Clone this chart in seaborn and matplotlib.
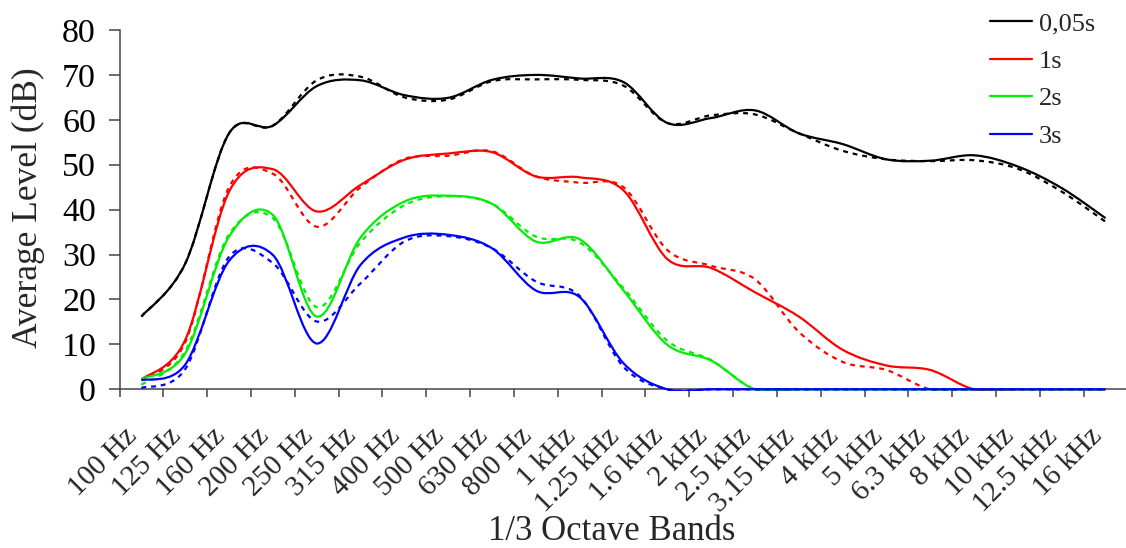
import numpy as np
import pandas as pd
import seaborn as sns
import matplotlib.pyplot as plt
from matplotlib.path import Path
from matplotlib.patches import PathPatch
from matplotlib.lines import Line2D
from matplotlib.transforms import Bbox, TransformedBbox, ScaledTranslation

# 1/3 octave band centres
bands = ["100 Hz", "125 Hz", "160 Hz", "200 Hz", "250 Hz", "315 Hz", "400 Hz",
         "500 Hz", "630 Hz", "800 Hz", "1 kHz", "1.25 kHz", "1.6 kHz", "2 kHz",
         "2.5 kHz", "3.15 kHz", "4 kHz", "5 kHz", "6.3 kHz", "8 kHz", "10 kHz",
         "12.5 kHz", "16 kHz"]

# average level (dB), solid = measured, dashed = second curve of each pair
lvl_005 = [16.2, 28.0, 57.0, 58.7, 67.5, 68.8, 65.5, 64.9, 68.9, 70.0, 69.2, 68.4,
           59.3, 60.4, 62.1, 57.0, 54.6, 51.2, 50.9, 52.1, 49.6, 44.8, 38.1]
lvl_005_b = [16.2, 28.0, 57.0, 58.7, 68.8, 69.6, 65.0, 64.5, 68.6, 69.0, 68.9, 67.6,
             59.3, 61.0, 61.2, 57.0, 53.1, 51.2, 50.8, 51.0, 49.1, 44.0, 37.3]
lvl_1 = [2.2, 11.0, 44.0, 49.0, 39.6, 45.5, 51.1, 52.5, 52.8, 47.4, 47.2, 44.3,
         29.0, 27.0, 21.6, 16.2, 8.8, 5.3, 4.3, 0, 0, 0, 0]
lvl_1_b = [2.0, 10.5, 45.0, 48.0, 36.2, 45.0, 51.3, 52.0, 53.0, 47.4, 46.0, 45.0,
           31.0, 27.5, 24.5, 12.8, 6.1, 4.3, 0, 0, 0, 0, 0]
lvl_2 = [2.3, 8.0, 34.0, 38.8, 16.2, 33.8, 41.8, 43.1, 41.3, 32.9, 33.4, 22.0,
         9.9, 6.4, 0, 0, 0, 0, 0, 0, 0, 0, 0]
lvl_2_b = [1.0, 8.5, 34.5, 38.1, 18.3, 32.7, 41.0, 43.0, 41.3, 34.0, 32.7, 22.5,
           10.8, 6.5, 0, 0, 0, 0, 0, 0, 0, 0, 0]
lvl_3 = [2.0, 5.5, 28.6, 29.9, 10.2, 27.7, 33.8, 34.4, 31.4, 22.0, 20.5, 5.8,
         0, 0, 0, 0, 0, 0, 0, 0, 0, 0, 0]
lvl_3_b = [0.3, 4.5, 29.5, 28.1, 15.1, 23.6, 32.9, 34.1, 31.4, 24.0, 20.8, 5.0,
           0, 0, 0, 0, 0, 0, 0, 0, 0, 0, 0]

labels = ["0,05s", "1s", "2s", "3s"]
colors = ["#000000", "#ff0000", "#00ee00", "#0000ff"]

df = pd.DataFrame({"band": bands,
                   "0,05s": lvl_005, "0,05s b": lvl_005_b,
                   "1s": lvl_1, "1s b": lvl_1_b,
                   "2s": lvl_2, "2s b": lvl_2_b,
                   "3s": lvl_3, "3s b": lvl_3_b})

sns.set_theme(style="ticks")
plt.rcParams['font.family'] = ['Liberation Serif', 'DejaVu Serif']


def smooth_path(x, y):
    # excel-like smoothed line: catmull-rom as cubic bezier segments
    pts = np.column_stack([x, y]).astype(float)
    prev = np.vstack([pts[:1], pts[:-1]])
    nxt = np.vstack([pts[1:], pts[-1:]])
    tang = (nxt - prev) / 6
    verts = [pts[0]]
    codes = [Path.MOVETO]
    for i in range(len(pts) - 1):
        verts += [pts[i] + tang[i], pts[i + 1] - tang[i + 1], pts[i + 1]]
        codes += [Path.CURVE4] * 3
    return Path(verts, codes)


fig = plt.figure(figsize=(11.26, 5.48), dpi=100)
ax = fig.add_axes([119.5 / 1126, 158.7 / 548, 1008 / 1126, 359.3 / 548])
ax.set_xlim(-0.5, 22.5)
ax.set_ylim(0, 80)

clip = TransformedBbox(Bbox([[-0.5, -0.35], [22.5, 81]]), ax.transData)
xpos = np.arange(len(bands))
for lab, col in zip(labels, colors):
    for suffix, ls in [(" b", (0, (2.2, 2.2))), ("", "-")]:
        p = PathPatch(smooth_path(xpos, df[lab + suffix]), fill=False,
                      edgecolor=col, lw=1.6, linestyle=ls, zorder=3,
                      capstyle="butt")
        ax.add_patch(p)
        p.set_clip_path(None)
        p.set_clip_box(clip)

sns.despine(ax=ax)
for s in ["left", "bottom"]:
    ax.spines[s].set_color("#444444")
    ax.spines[s].set_linewidth(1.1)

ax.set_yticks(np.arange(0, 81, 10))
ax.tick_params(axis="y", length=8, width=1.1, color="#444444", pad=9,
               labelsize=24.5)
for t in ax.get_yticklabels():
    t.set_color("black")

ax.set_xticks(np.arange(-0.5, 23, 1))
ax.set_xticklabels([])
ax.tick_params(axis="x", which="major", length=6, width=1.1, color="#444444")
ax.set_xticks(xpos, minor=True)
ax.set_xticklabels(bands, minor=True, rotation=45, ha="right", va="center",
                   rotation_mode="anchor", fontsize=21)
ax.tick_params(axis="x", which="minor", length=0, pad=31)
shift = ScaledTranslation(-8 / 100, 0, fig.dpi_scale_trans)
for t in ax.get_xticklabels(minor=True):
    t.set_transform(t.get_transform() + shift)

ax.set_xlabel("1/3 Octave Bands", fontsize=25)
ax.xaxis.set_label_coords(0.488, -0.397)
ax.xaxis.label.set_va("center")
ax.set_ylabel("Average Level (dB)", fontsize=25.5)
ax.yaxis.set_label_coords(-0.091, 0.505)
ax.yaxis.label.set_va("center")

handles = [Line2D([0], [0], color=c, lw=1.6) for c in colors]
fig.legend(handles, labels, loc="upper left", frameon=False, fontsize=19,
           bbox_to_anchor=(990 / 1126, 1 - 12 / 548), borderaxespad=0,
           borderpad=0, handlelength=1.6, handletextpad=0.25,
           labelspacing=0.53)

fig.savefig("out.png", dpi=100)
